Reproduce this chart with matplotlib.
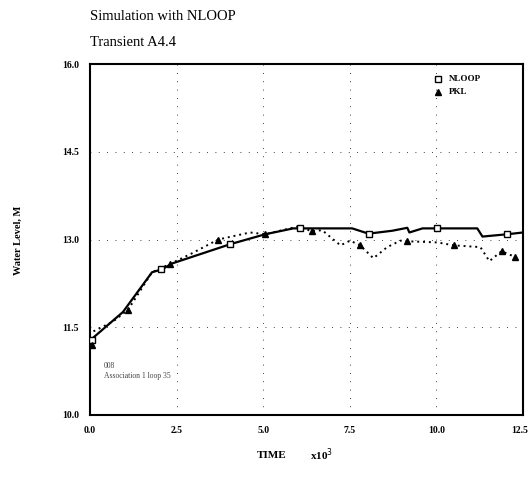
import matplotlib
matplotlib.use("Agg")
import matplotlib.pyplot as plt
import matplotlib.transforms as mtransforms

# NLOOP (solid line) and PKL (dotted line), time in 1000 s, level in m
nloop_t = [0.05, 0.95, 1.79, 2.08, 2.37, 4.05, 5.06, 5.87, 7.57, 8.04, 8.73, 9.16, 9.22, 9.6, 11.18, 11.33, 12.05, 12.5]
nloop_y = [11.30, 11.76, 12.44, 12.49, 12.59, 12.92, 13.09, 13.19, 13.19, 13.10, 13.15, 13.20, 13.12, 13.19, 13.19, 13.05, 13.09, 13.12]
nloop_mark_t = [0.05, 2.05, 4.05, 6.05, 8.04, 10.03, 12.05]
nloop_mark_y = [11.28, 12.49, 12.92, 13.19, 13.10, 13.19, 13.09]

pkl_t = [0.1, 0.67, 1.1, 1.79, 2.3, 2.9, 3.7, 4.62, 5.06, 5.98, 6.42, 6.7, 7.23, 7.51, 7.8, 8.18, 8.58, 8.96, 9.16, 10.03, 10.5, 11.27, 11.53, 11.88, 12.28]
pkl_y = [11.43, 11.60, 11.80, 12.44, 12.58, 12.75, 13.00, 13.12, 13.09, 13.22, 13.14, 13.16, 12.90, 12.98, 12.90, 12.68, 12.87, 12.98, 12.97, 12.95, 12.90, 12.87, 12.63, 12.80, 12.70]
pkl_mark_t = [0.05, 1.1, 2.3, 3.7, 5.06, 6.42, 7.8, 9.16, 10.5, 11.88, 12.28]
pkl_mark_y = [11.20, 11.80, 12.58, 13.00, 13.09, 13.14, 12.90, 12.97, 12.90, 12.80, 12.70]

x_ticks = [0.0, 2.5, 5.0, 7.5, 10.0, 12.5]
y_ticks = [10.0, 11.5, 13.0, 14.5, 16.0]

plt.rcParams["font.family"] = ["Liberation Serif", "DejaVu Serif"]

fig = plt.figure(figsize=(5.28, 4.95), dpi=100)
ax = fig.add_axes([90 / 528, 1 - 415 / 495, 433 / 528, 351 / 495])

ax.plot(nloop_t, nloop_y, color="black", linewidth=1.6, zorder=3)
ax.plot(nloop_mark_t, nloop_mark_y, linestyle="none", marker="s", markersize=4,
        markerfacecolor="white", markeredgecolor="black", markeredgewidth=1.0, zorder=4)
ax.plot(pkl_t, pkl_y, color="black", linewidth=1.4, linestyle=(0, (1, 2)), zorder=3)
ax.plot(pkl_mark_t, pkl_mark_y, linestyle="none", marker="^", markersize=5,
        color="black", zorder=4)

ax.set_xlim(0, 12.5)
ax.set_ylim(10, 16)
ax.set_xticks(x_ticks)
ax.set_yticks(y_ticks)
ax.set_xticklabels([f"{v:.1f}" for v in x_ticks], fontsize=7, fontweight="bold")
ax.set_yticklabels([f"{v:.1f}" for v in y_ticks], fontsize=7, fontweight="bold")
ax.tick_params(direction="in", length=0, pad=8)
last = ax.get_xticklabels()[-1]
last.set_horizontalalignment("right")
last.set_transform(last.get_transform() + mtransforms.ScaledTranslation(4 / 72, 0, fig.dpi_scale_trans))
ax.grid(True, color="black", linestyle=(0, (1, 9)), linewidth=0.6)
for spine in ax.spines.values():
    spine.set_linewidth(1.5)

# legend
ax.plot([10.05], [15.75], linestyle="none", marker="s", markersize=4,
        markerfacecolor="white", markeredgecolor="black")
ax.text(10.35, 15.75, "NLOOP", fontsize=6.5, fontweight="bold", va="center")
ax.plot([10.05], [15.52], linestyle="none", marker="^", markersize=5, color="black")
ax.text(10.35, 15.52, "PKL", fontsize=6.5, fontweight="bold", va="center")

ax.text(0.4, 10.8, "008", fontsize=5.5, color="#444444")
ax.text(0.4, 10.63, "Association 1 loop 35", fontsize=5.5, color="#444444")

fig.text(90 / 528, 1 - 16 / 495, "Simulation with NLOOP", fontsize=10.5, va="center")
fig.text(90 / 528, 1 - 42 / 495, "Transient A4.4", fontsize=10.5, va="center")
fig.text(18 / 528, 1 - 240 / 495, "Water Level, M", fontsize=7.5, fontweight="bold",
         rotation=90, ha="center", va="center")
fig.text(272 / 528, 1 - 455 / 495, "TIME", fontsize=8, fontweight="bold", ha="center", va="center")
fig.text(322 / 528, 1 - 455 / 495, r"x10$^{3}$", fontsize=8, fontweight="bold", ha="center", va="center")

fig.savefig("out.png", dpi=100)
